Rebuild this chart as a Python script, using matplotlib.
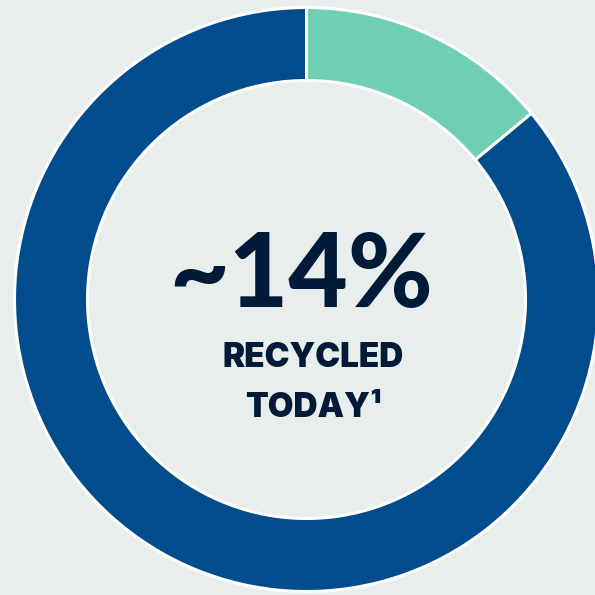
import matplotlib
matplotlib.use("Agg")
import matplotlib.pyplot as plt

labels = ["Recycled", "Not recycled"]
shares = [14, 86]
colors = ["#6FCFB3", "#004C8C"]
headline = "~14%"
sub1 = "RECYCLED"
sub2 = "TODAY\u00b9"

W = H = 595
fig = plt.figure(figsize=(5.95, 5.95), dpi=100)
bg = "#E8EEEC"
fig.patch.set_facecolor(bg)
ax = fig.add_axes([0, 0, 1, 1])
ax.set_facecolor(bg)

cx, cy = 306.5, H - 299.5
R = 292
ax.pie(shares, colors=colors, startangle=90, counterclock=False,
       radius=R, center=(cx, cy), frame=True,
       wedgeprops=dict(width=R - 219, edgecolor="white", linewidth=2.2))
ax.set_xlim(0, W)
ax.set_ylim(0, H)
ax.set_aspect("equal")
ax.axis("off")

navy = "#001A38"
fam = ["Lato", "DejaVu Sans"]
fam2 = ["Inter", "DejaVu Sans"]
ax.text(301, H - 307, headline, ha="center", va="baseline", fontsize=74,
        fontweight=900, color=navy, family=fam)
ax.text(313, H - 367, sub1, ha="center", va="baseline", fontsize=24,
        fontweight=900, color=navy, family=fam2)
ax.text(313, H - 417, sub2, ha="center", va="baseline", fontsize=24,
        fontweight=900, color=navy, family=fam2)

fig.savefig("out.png", dpi=100, facecolor=bg)
